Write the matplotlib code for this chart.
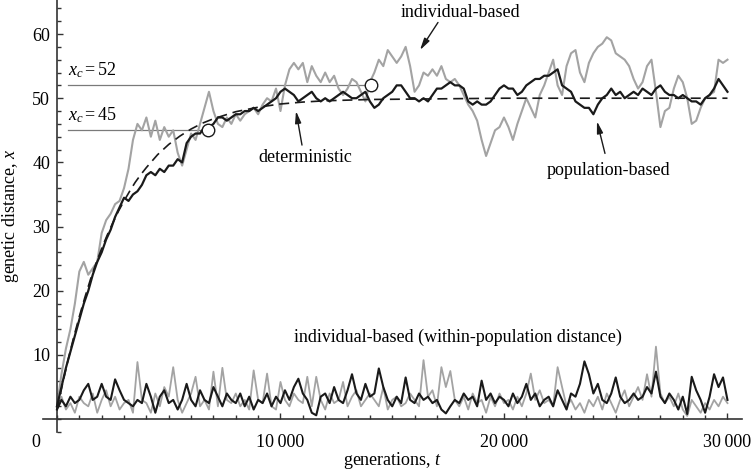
import numpy as np
import matplotlib
matplotlib.use("Agg")
import matplotlib.pyplot as plt
from matplotlib.ticker import MultipleLocator, FixedLocator

plt.rcParams['font.family'] = ['Liberation Serif', 'DejaVu Serif']
plt.rcParams['mathtext.fontset'] = 'custom'
plt.rcParams['mathtext.rm'] = 'Liberation Serif'
plt.rcParams['mathtext.it'] = 'Liberation Serif:italic'

# generations, sampled every 200
t_step = 200

# individual-based, between-population distance (grey)
ind_between = [
    2, 7, 11, 14, 18, 23, 24.5, 22.5, 23.5, 24.5,
    29, 31, 32, 33.5, 34, 36, 39, 43.5, 46, 45,
    47, 44, 46.5, 43.5, 45.5, 44, 45, 41.5, 39.5, 42,
    44.5, 43.5, 46, 48.5, 51, 48, 46, 45.5, 47, 46,
    47.5, 46.5, 47.5, 48, 48.5, 47.5, 49, 50, 49.5, 51.5,
    48, 52, 54.5, 55.5, 54.5, 55.5, 52.5, 55, 53.5, 52.5,
    54, 52.5, 53.5, 51.5, 50.5, 51.5, 53, 52.5, 51, 49.5,
    52.5, 54, 56, 55, 57.5, 56.5, 55.5, 56.5, 58, 55,
    51, 52, 54, 53.5, 54.5, 53.5, 55, 53, 52.5, 53,
    52, 50.5, 49, 48, 46.5, 43.5, 41, 43, 45, 45.5,
    47, 45.5, 43.5, 46, 48, 50, 48.5, 47, 50.5, 52,
    54, 56, 52, 50.5, 55, 57, 57.5, 54, 52.5, 55.5,
    57, 58, 58.5, 59.5, 59, 57, 56.5, 56, 55, 53,
    51.5, 52.5, 55, 56, 51, 45.5, 48, 48.5, 51.5, 53.5,
    52.5, 50, 46, 46.5, 48.5, 50, 50.5, 51, 56, 55.5,
    56,
]

# population-based (black)
pop_between = [
    2, 5, 8, 10.5, 13, 15.5, 18, 20, 22.5, 24.5,
    26, 28, 29.5, 31.5, 33, 34.5, 34, 35, 35.5, 36.5,
    38, 38.5, 38, 39, 38.5, 39.5, 39.5, 40.5, 40, 43,
    44, 44.5, 44.5, 45.5, 45.5, 46, 47, 47, 46.5, 47,
    47.5, 47.5, 48, 48, 48.5, 48, 48.5, 49, 49.5, 50,
    51, 51.5, 51, 50.5, 49.5, 50, 50.5, 51, 50, 49.5,
    50, 49.5, 50, 50.5, 51, 50.5, 50, 50, 50.5, 51,
    49.5, 48.5, 49, 50, 50.5, 51, 52, 52, 51, 50,
    50, 49.5, 50, 49.5, 50.5, 51.5, 51.5, 52, 52.5, 52,
    52, 51.5, 49.5, 49, 49.5, 49, 49, 49.5, 50.5, 51.5,
    52, 51.5, 51.5, 50.5, 51, 52, 52.5, 53, 53, 53.5,
    53.5, 54, 54.5, 52, 51.5, 51, 49.5, 49, 48.5, 48.5,
    47.5, 49, 50, 50.5, 51.5, 50.5, 51, 50, 50.5, 51,
    50.5, 51.5, 51, 50.5, 51.5, 52, 51, 50.5, 50.5, 50,
    50.5, 50, 49.5, 49.5, 49, 50, 50.5, 51.5, 53, 52,
    51,
]

# individual-based, within-population distance
ind_within = [
    2, 3.5, 1.5, 2.5, 1, 3.5, 2.5, 2, 4, 1,
    3, 4.5, 2, 3.5, 1.5, 2.5, 3, 1, 8.9, 3,
    2.5, 1, 4, 2, 5, 3.5, 8.1, 3, 1, 2.5,
    4, 6.6, 2, 3, 1.5, 7.4, 2, 8, 3, 2.5,
    4, 2, 3, 1.5, 7.6, 3, 2.5, 7.1, 2, 1.5,
    5.8, 3, 2, 4, 3, 2.5, 6.6, 2, 6.6, 3,
    1.5, 4, 2.5, 3, 5.8, 2, 3.5, 4.5, 2, 3,
    4, 3, 2, 5, 1.5, 3, 3.5, 2, 2.5, 4,
    3, 2, 9.2, 3.5, 4.5, 2, 8.1, 5, 7.5, 3,
    2, 3.5, 1.5, 4, 2.5, 3, 1, 3.5, 2, 4,
    2.5, 3, 1.5, 3.5, 2, 4, 7.1, 3, 4.5, 2.5,
    3, 2, 8.1, 5, 2, 3, 1.5, 2.5, 1, 3,
    2, 3.5, 1.5, 4, 2.5, 1, 3, 4.5, 2, 3.5,
    5, 3, 7, 3.5, 11.3, 4, 2.5, 3.5, 2, 4,
    1.5, 0.5, 3, 2, 1, 2.5, 1.5, 3, 2, 3.5,
    2.5,
]

pop_within = [
    1.5, 3, 2, 3.5, 2.5, 3, 4.5, 5.5, 3, 3.5,
    5.5, 3.5, 3, 6.2, 4.5, 3, 2.5, 2, 3, 2.5,
    5.5, 3.5, 1, 3.5, 4.5, 2.5, 3, 1.5, 3, 5.5,
    3, 2, 4.5, 3, 2.5, 5, 3.5, 2, 4, 3,
    2.5, 4, 2, 3.5, 1.5, 3, 2.5, 4, 2, 3.5,
    2.5, 4.5, 3, 5, 6.3, 4, 3, 1, 0.6, 3.5,
    4, 2.5, 5, 3, 2.5, 4.5, 7, 4, 3, 5.5,
    3.5, 4, 7.9, 5, 3, 2, 3.5, 2.5, 6.5, 3,
    2.5, 4, 3, 3.5, 2.5, 3, 1.5, 0.9, 2, 3,
    2.5, 4, 3, 3.5, 2, 6, 3, 4, 2.5, 3.5,
    3, 2, 4, 2.5, 3.5, 5.5, 3, 4, 2, 3,
    3.5, 2, 4.5, 3, 1.5, 4, 3.5, 5.5, 9, 7,
    4, 5.5, 3, 2.5, 4, 6.5, 3.5, 2.5, 3, 4,
    3, 3.5, 5, 4, 7.4, 3.5, 2.5, 4, 3, 1.5,
    3.5, 0.8, 6.6, 4.5, 3, 1, 3.5, 7, 5, 6.5,
    3,
]

# deterministic prediction (dashed)
det_t = [0, 250, 500, 750, 1000, 1250, 1500, 1750, 2000, 2250, 2500, 2750,
         3000, 3250, 3500, 3750, 4000, 4500, 5000, 5500, 6000, 6500, 7000,
         8000, 9000, 10000, 11000, 12000, 14000, 17000, 20000, 25000, 30000]
det_x = [1.5, 5.5, 9.3, 12.8, 16.0, 19.0, 21.8, 24.3, 26.6, 28.7, 30.6, 32.4,
         34.0, 35.5, 36.9, 38.1, 39.2, 41.2, 42.8, 44.1, 45.2, 46.1, 46.8,
         47.9, 48.6, 49.1, 49.4, 49.6, 49.8, 49.9, 50.0, 50.0, 50.0]

# critical distances and where they are first crossed
xc_vals = [45, 52]
xc_times = [6760, 14050]

grey = '#a3a3a3'
black = '#1a1a1a'

t = np.arange(len(pop_between)) * t_step

fig = plt.figure(figsize=(7.53, 4.72), dpi=100)
ax = fig.add_axes([43/753, 40/472, 699/753, 432/472])

ax.plot(t, ind_within, color=grey, lw=1.3, zorder=2)
ax.plot(t, pop_within, color=black, lw=1.5, zorder=3)
ax.plot(t, ind_between, color=grey, lw=1.5, zorder=2)
ax.plot(t, pop_between, color=black, lw=1.6, zorder=3)
ax.plot(det_t, det_x, color=black, lw=1.2, dashes=(6, 3.5), zorder=4)

for xc, tc in zip(xc_vals, xc_times):
    ax.plot([490, tc], [xc, xc], color='#7a7a7a', lw=0.9, zorder=1)
    ax.plot([tc], [xc], 'o', ms=9, mfc='white', mec=black, mew=1.0, zorder=6)
    ax.text(490, xc + 2.3, r'$x_c = %d$' % xc, fontsize=13, ha='left', va='center')

ax.set_xlim(-626, 30650)
ax.set_ylim(-2.0, 65.3)

for side in ['top', 'right']:
    ax.spines[side].set_visible(False)
ax.spines['left'].set_position(('data', 0))
ax.spines['bottom'].set_position(('data', 0))
for side in ['left', 'bottom']:
    ax.spines[side].set_color('#333333')
    ax.spines[side].set_linewidth(1.2)

ax.xaxis.set_major_locator(FixedLocator([10000, 20000, 30000]))
ax.xaxis.set_minor_locator(MultipleLocator(1000))
ax.set_xticklabels(['10\u2009000', '20\u2009000', '30\u2009000'])
ax.yaxis.set_major_locator(FixedLocator([10, 20, 30, 40, 50, 60]))
ax.yaxis.set_minor_locator(MultipleLocator(2))
ax.tick_params(which='both', direction='in', color='#333333', width=1.0)
ax.tick_params(which='major', length=4.5, labelsize=13)
ax.tick_params(which='minor', length=3)
ax.tick_params(axis='x', pad=11)
ax.tick_params(axis='y', pad=5)
ax.text(-940, -3.7, '0', fontsize=13, ha='center', va='center', clip_on=False)

ax.set_xlabel('generations, $t$', fontsize=13, va='center')
ax.set_ylabel('genetic distance, $x$', fontsize=13, va='center')
ax.xaxis.set_label_coords(0.5, -0.066)
ax.yaxis.set_label_coords(-0.046, 0.5)

arrow = dict(arrowstyle='-|>,head_length=0.7,head_width=0.18', color=black, lw=1.0,
             shrinkA=0, shrinkB=0)
ax.annotate('', xy=(16242, 57.5), xytext=(17047, 61.8), arrowprops=arrow)
ax.text(18076, 63.4, 'individual-based', fontsize=13, ha='center', va='center')
ax.annotate('', xy=(10694, 48.0), xytext=(10962, 42.7), arrowprops=arrow)
ax.text(11096, 40.8, 'deterministic', fontsize=13, ha='center', va='center')
ax.annotate('', xy=(24161, 46.4), xytext=(24519, 41.4), arrowprops=arrow)
ax.text(24698, 38.8, 'population-based', fontsize=13, ha='center', va='center')
ax.text(17942, 12.8, 'individual-based (within-population distance)', fontsize=13,
        ha='center', va='center')

fig.savefig('out.png', dpi=100)
